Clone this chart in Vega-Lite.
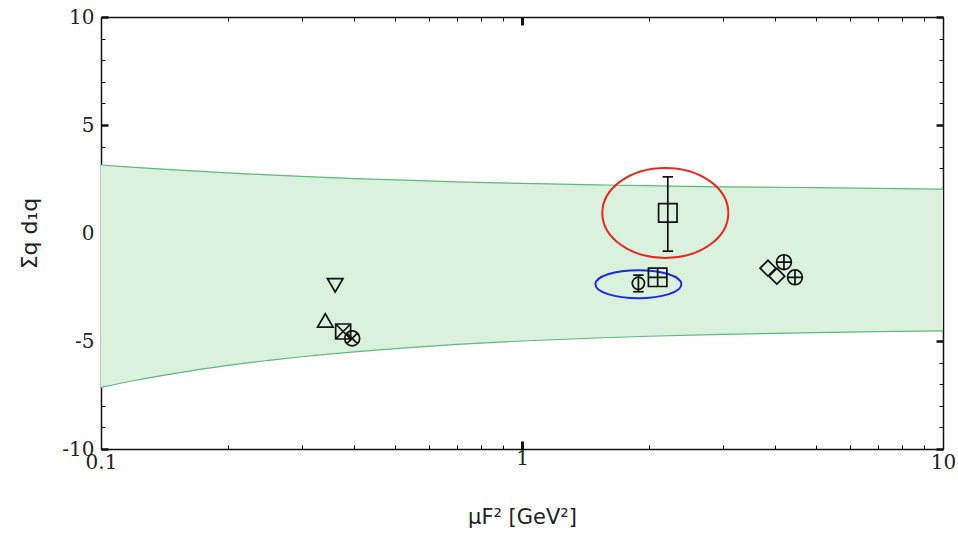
{
  "$schema": "https://vega.github.io/schema/vega-lite/v6.json",
  "width": 842,
  "height": 432,
  "autosize": {"type": "none"},
  "padding": {"left": 101, "top": 17, "right": 15, "bottom": 85},
  "background": "white",
  "config": {
    "view": {"stroke": null},
    "axis": {
      "grid": false,
      "domainColor": "#111",
      "domainWidth": 1.5,
      "tickColor": "#111",
      "labelColor": "#222",
      "labelFont": "DejaVu Serif",
      "labelFontSize": 20,
      "titleFont": "DejaVu Sans",
      "titleColor": "#222",
      "titleFontWeight": "normal",
      "labelOverlap": false,
      "labelBound": false,
      "labelFlush": false
    }
  },
  "datasets": {
    "band": [
      {"x": 0.1, "upper": 3.15, "lower": -7.15},
      {"x": 0.12, "upper": 3.04, "lower": -6.83},
      {"x": 0.15, "upper": 2.92, "lower": -6.5},
      {"x": 0.2, "upper": 2.78, "lower": -6.13},
      {"x": 0.25, "upper": 2.69, "lower": -5.9},
      {"x": 0.3, "upper": 2.62, "lower": -5.73},
      {"x": 0.4, "upper": 2.52, "lower": -5.5},
      {"x": 0.5, "upper": 2.46, "lower": -5.35},
      {"x": 0.7, "upper": 2.37, "lower": -5.16},
      {"x": 1, "upper": 2.3, "lower": -5.0},
      {"x": 1.5, "upper": 2.23, "lower": -4.86},
      {"x": 2, "upper": 2.19, "lower": -4.78},
      {"x": 3, "upper": 2.14, "lower": -4.69},
      {"x": 5, "upper": 2.1, "lower": -4.61},
      {"x": 7, "upper": 2.07, "lower": -4.57},
      {"x": 10, "upper": 2.03, "lower": -4.53}
    ],
    "points": [
      {"x": 0.36, "y": -2.42, "m": "triangle-down"},
      {"x": 0.341, "y": -4.05, "m": "triangle-up"},
      {"x": 0.376, "y": -4.56, "m": "squareX"},
      {"x": 0.395, "y": -4.88, "m": "circleX"},
      {"x": 1.89, "y": -2.33, "m": "circle"},
      {"x": 2.1, "y": -2.05, "m": "squarePlus"},
      {"x": 2.22, "y": 0.93, "m": "square"},
      {"x": 3.84, "y": -1.63, "m": "diamond"},
      {"x": 4.03, "y": -2.0, "m": "diamond"},
      {"x": 4.19, "y": -1.35, "m": "circlePlus"},
      {"x": 4.45, "y": -2.05, "m": "circlePlus"}
    ],
    "errors": [
      {"x": 2.22, "lo": -0.84, "hi": 2.6},
      {"x": 1.89, "lo": -2.72, "hi": -1.95}
    ],
    "redEllipse": [{"x": 2.19, "y": 0.93}],
    "blueEllipse": [{"x": 1.89, "y": -2.37}]
  },
  "resolve": {"axis": {"x": "independent", "y": "independent"}},
  "layer": [
    {
      "data": {"name": "band"},
      "mark": {"type": "area", "color": "#d9f1dd", "opacity": 1, "interpolate": "monotone"},
      "encoding": {
        "x": {
          "field": "x", "type": "quantitative",
          "scale": {"type": "log", "domain": [0.1, 10], "nice": false},
          "axis": {
            "orient": "bottom",
            "values": [0.1, 0.2, 0.3, 0.4, 0.5, 0.6, 0.7, 0.8, 0.9, 1, 2, 3, 4, 5, 6, 7, 8, 9, 10],
            "format": "~g",
            "labelExpr": "datum.value == 0.1 || datum.value == 1 || datum.value == 10 ? datum.label : ''",
            "tickSize": {"condition": {"test": "datum.value == 1", "value": -8}, "value": -4},
            "tickWidth": {"condition": {"test": "datum.value == 1", "value": 3}, "value": 1},
            "labelPadding": 7,
            "title": "μF² [GeV²]",
            "titleFontSize": 21,
            "titlePadding": 34
          }
        },
        "y": {
          "field": "upper", "type": "quantitative",
          "scale": {"domain": [-10, 10], "nice": false, "zero": false},
          "axis": {
            "orient": "left",
            "values": [-10, -9, -8, -7, -6, -5, -4, -3, -2, -1, 0, 1, 2, 3, 4, 5, 6, 7, 8, 9, 10],
            "labelExpr": "datum.value % 5 == 0 ? '' + datum.value : ''",
            "tickSize": {"condition": {"test": "datum.value % 5 == 0", "value": -7}, "value": -4},
            "tickWidth": {"condition": {"test": "datum.value % 5 == 0", "value": 2.5}, "value": 1},
            "labelPadding": 14,
            "title": "Σq d₁q",
            "titleFontSize": 22,
            "titleAngle": -90,
            "titleX": -72,
            "titleY": 216,
            "titleAlign": "center",
            "titleBaseline": "middle"
          }
        },
        "y2": {"field": "lower"}
      }
    },
    {
      "data": {"name": "band"},
      "mark": {"type": "line", "color": "#5fb97b", "strokeWidth": 1.2, "interpolate": "monotone"},
      "encoding": {
        "x": {"field": "x", "type": "quantitative", "scale": {"type": "log", "domain": [0.1, 10], "nice": false}, "axis": null},
        "y": {"field": "upper", "type": "quantitative", "scale": {"domain": [-10, 10], "nice": false, "zero": false}, "axis": null}
      }
    },
    {
      "data": {"name": "band"},
      "mark": {"type": "line", "color": "#5fb97b", "strokeWidth": 1.2, "interpolate": "monotone"},
      "encoding": {
        "x": {"field": "x", "type": "quantitative", "scale": {"type": "log", "domain": [0.1, 10], "nice": false}, "axis": null},
        "y": {"field": "lower", "type": "quantitative", "scale": {"domain": [-10, 10], "nice": false, "zero": false}, "axis": null}
      }
    },
    {
      "mark": {"type": "rule", "color": "#8a9a8e", "strokeWidth": 1},
      "encoding": {
        "y": {"datum": 0, "type": "quantitative", "scale": {"domain": [-10, 10], "nice": false, "zero": false}, "axis": null}
      }
    },
    {
      "data": {"name": "redEllipse"},
      "mark": {"type": "point", "filled": false, "stroke": "#e8281e", "strokeWidth": 2, "opacity": 1, "size": 15876, "shape": "M1,0A1,0.714,0,1,1,-1,0A1,0.714,0,1,1,1,0Z"},
      "encoding": {
        "x": {"field": "x", "type": "quantitative", "scale": {"type": "log", "domain": [0.1, 10], "nice": false}, "axis": null},
        "y": {"field": "y", "type": "quantitative", "scale": {"domain": [-10, 10], "nice": false, "zero": false}, "axis": null}
      }
    },
    {
      "data": {"name": "blueEllipse"},
      "mark": {"type": "point", "filled": false, "stroke": "#1a2be0", "strokeWidth": 2, "opacity": 1, "size": 7396, "shape": "M1,0A1,0.326,0,1,1,-1,0A1,0.326,0,1,1,1,0Z"},
      "encoding": {
        "x": {"field": "x", "type": "quantitative", "scale": {"type": "log", "domain": [0.1, 10], "nice": false}, "axis": null},
        "y": {"field": "y", "type": "quantitative", "scale": {"domain": [-10, 10], "nice": false, "zero": false}, "axis": null}
      }
    },
    {
      "data": {"name": "errors"},
      "mark": {"type": "rule", "color": "#111", "strokeWidth": 1.7},
      "encoding": {
        "x": {"field": "x", "type": "quantitative", "scale": {"type": "log", "domain": [0.1, 10], "nice": false}, "axis": null},
        "y": {"field": "lo", "type": "quantitative", "scale": {"domain": [-10, 10], "nice": false, "zero": false}, "axis": null},
        "y2": {"field": "hi"}
      }
    },
    {
      "data": {"name": "errors"},
      "mark": {"type": "point", "filled": false, "stroke": "#111", "strokeWidth": 1.7, "opacity": 1, "size": 110, "shape": "M-1,0L1,0"},
      "encoding": {
        "x": {"field": "x", "type": "quantitative", "scale": {"type": "log", "domain": [0.1, 10], "nice": false}, "axis": null},
        "y": {"field": "lo", "type": "quantitative", "scale": {"domain": [-10, 10], "nice": false, "zero": false}, "axis": null}
      }
    },
    {
      "data": {"name": "errors"},
      "mark": {"type": "point", "filled": false, "stroke": "#111", "strokeWidth": 1.7, "opacity": 1, "size": 110, "shape": "M-1,0L1,0"},
      "encoding": {
        "x": {"field": "x", "type": "quantitative", "scale": {"type": "log", "domain": [0.1, 10], "nice": false}, "axis": null},
        "y": {"field": "hi", "type": "quantitative", "scale": {"domain": [-10, 10], "nice": false, "zero": false}, "axis": null}
      }
    },
    {
      "data": {"name": "points"},
      "mark": {"type": "point", "filled": true, "fill": "#d9f1dd", "fillOpacity": 0, "stroke": "#111", "strokeWidth": 1.7, "opacity": 1},
      "encoding": {
        "x": {
          "field": "x", "type": "quantitative",
          "scale": {"type": "log", "domain": [0.1, 10], "nice": false},
          "axis": {
            "orient": "top",
            "values": [0.1, 0.2, 0.3, 0.4, 0.5, 0.6, 0.7, 0.8, 0.9, 1, 2, 3, 4, 5, 6, 7, 8, 9, 10],
            "labels": false,
            "tickSize": {"condition": {"test": "datum.value == 1", "value": -8}, "value": -4},
            "tickWidth": {"condition": {"test": "datum.value == 1", "value": 3}, "value": 1},
            "title": null
          }
        },
        "y": {
          "field": "y", "type": "quantitative",
          "scale": {"domain": [-10, 10], "nice": false, "zero": false},
          "axis": {
            "orient": "right",
            "values": [-10, -9, -8, -7, -6, -5, -4, -3, -2, -1, 0, 1, 2, 3, 4, 5, 6, 7, 8, 9, 10],
            "labels": false,
            "tickSize": {"condition": {"test": "datum.value % 5 == 0", "value": -7}, "value": -4},
            "tickWidth": {"condition": {"test": "datum.value % 5 == 0", "value": 2.5}, "value": 1},
            "title": null
          }
        },
        "shape": {
          "field": "m", "type": "nominal", "legend": null,
          "scale": {
            "domain": ["triangle-down", "triangle-up", "squareX", "circleX", "circle", "squarePlus", "square", "diamond", "circlePlus"],
            "range": [
              "triangle-down",
              "triangle-up",
              "M-1,-1L1,-1L1,1L-1,1Z M-1,-1L1,1 M1,-1L-1,1",
              "M1,0A1,1,0,1,1,-1,0A1,1,0,1,1,1,0Z M-0.707,-0.707L0.707,0.707 M0.707,-0.707L-0.707,0.707",
              "circle",
              "M-1,-1L1,-1L1,1L-1,1Z M0,-1L0,1 M-1,0L1,0",
              "square",
              "diamond",
              "M1,0A1,1,0,1,1,-1,0A1,1,0,1,1,1,0Z M0,-1L0,1 M-1,0L1,0"
            ]
          }
        },
        "size": {
          "field": "m", "type": "nominal", "legend": null,
          "scale": {
            "type": "ordinal",
            "domain": ["triangle-down", "triangle-up", "squareX", "circleX", "circle", "squarePlus", "square", "diamond", "circlePlus"],
            "range": [240, 240, 225, 225, 150, 340, 340, 250, 220]
          }
        }
      }
    }
  ]
}
